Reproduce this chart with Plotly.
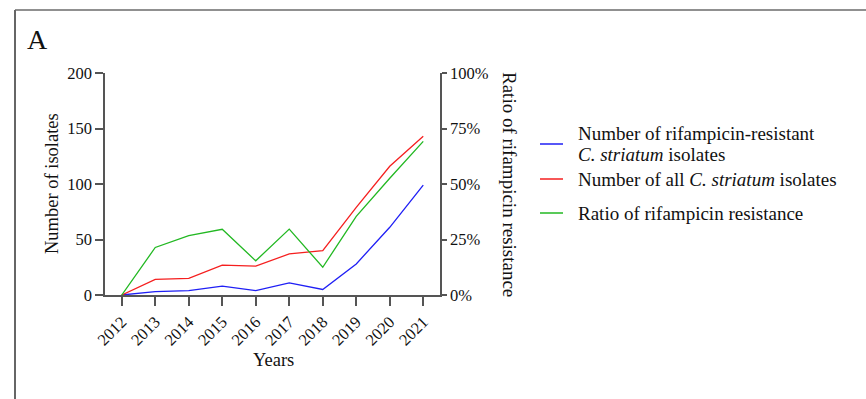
import plotly.graph_objects as go

# Surveillance data, 2012-2021
years = ["2012", "2013", "2014", "2015", "2016", "2017", "2018", "2019", "2020", "2021"]
resistant_isolates = [0, 3, 4, 8, 4, 11, 5, 28, 61, 99]
all_isolates = [0, 14, 15, 27, 26, 37, 40, 79, 116, 143]
resistance_ratio_pct = [0, 21.4, 26.7, 29.6, 15.4, 29.7, 12.5, 35.4, 52.6, 69.2]

count_ticks = [0, 50, 100, 150, 200]
ratio_ticks = [0, 25, 50, 75, 100]

# legend labels, one list of text lines per series
series_labels = [
    ["Number of rifampicin-resistant", "<i>C. striatum</i> isolates"],
    ["Number of all <i>C. striatum</i> isolates"],
    ["Ratio of rifampicin resistance"],
]
series_colors = ["#1f1ff5", "#f51f1f", "#22b822"]

W, H = 866, 399
ML, MR, MT, MB = 105, 426, 73, 104
PW, PH = W - ML - MR, H - MT - MB

FONT = "Liberation Serif, Times New Roman, serif"
AXIS_COLOR = "#555555"
TEXT_COLOR = "#111111"


def px_x(x):
    return (x - ML) / PW


def px_y(y):
    return 1 - (y - MT) / PH


fig = go.Figure()
fig.add_trace(go.Scatter(
    x=years, y=resistant_isolates, mode="lines",
    name=" ".join(series_labels[0]),
    line=dict(color=series_colors[0], width=1.3),
))
fig.add_trace(go.Scatter(
    x=years, y=all_isolates, mode="lines",
    name=" ".join(series_labels[1]),
    line=dict(color=series_colors[1], width=1.3),
))
fig.add_trace(go.Scatter(
    x=years, y=resistance_ratio_pct, mode="lines", yaxis="y2",
    name=" ".join(series_labels[2]),
    line=dict(color=series_colors[2], width=1.3),
))

axis_common = dict(
    showline=True, linecolor=AXIS_COLOR, linewidth=1.5,
    ticks="outside", tickcolor=AXIS_COLOR, tickwidth=1.5,
    showgrid=False, zeroline=False,
    tickfont=dict(family=FONT, size=16.5, color=TEXT_COLOR),
)

annotations = [
    dict(text="A", x=px_x(25), y=px_y(40), xref="paper", yref="paper",
         xanchor="left", yanchor="middle", showarrow=False,
         font=dict(family=FONT, size=28, color=TEXT_COLOR)),
    dict(text="Number of isolates", x=px_x(52), y=px_y(184),
         xref="paper", yref="paper", textangle=-90, showarrow=False,
         xanchor="center", yanchor="middle",
         font=dict(family=FONT, size=18.5, color=TEXT_COLOR)),
    dict(text="Ratio of rifampicin resistance", x=px_x(510), y=px_y(184),
         xref="paper", yref="paper", textangle=90, showarrow=False,
         xanchor="center", yanchor="middle",
         font=dict(family=FONT, size=19, color=TEXT_COLOR)),
    dict(text="Years", x=px_x(273), y=px_y(360),
         xref="paper", yref="paper", showarrow=False,
         xanchor="center", yanchor="middle",
         font=dict(family=FONT, size=18.5, color=TEXT_COLOR)),
]

shapes = [
    # panel frame: top rule and left rule
    dict(type="line", xref="paper", yref="paper",
         x0=px_x(15), x1=px_x(W), y0=px_y(10), y1=px_y(10),
         line=dict(color="#222222", width=1.2)),
    dict(type="line", xref="paper", yref="paper",
         x0=px_x(15), x1=px_x(15), y0=px_y(10), y1=px_y(H),
         line=dict(color="#666666", width=2)),
]

# legend: short colour rule followed by the series label
legend_rows = [144, 179, 213]
LEGEND_LINE_GAP = 21
for lines, color, row in zip(series_labels, series_colors, legend_rows):
    shapes.append(dict(type="line", xref="paper", yref="paper",
                       x0=px_x(540), x1=px_x(563), y0=px_y(row), y1=px_y(row),
                       line=dict(color=color, width=1.5)))
    first = row - LEGEND_LINE_GAP * (len(lines) - 1) / 2
    for i, text in enumerate(lines):
        annotations.append(dict(text=text, x=px_x(576),
                                y=px_y(first + i * LEGEND_LINE_GAP),
                                xref="paper", yref="paper", showarrow=False,
                                xanchor="left", yanchor="middle", align="left",
                                font=dict(family=FONT, size=19, color=TEXT_COLOR)))

fig.update_layout(
    width=W, height=H,
    margin=dict(l=ML, r=MR, t=MT, b=MB),
    paper_bgcolor="white", plot_bgcolor="white",
    font=dict(family=FONT, size=17, color=TEXT_COLOR),
    showlegend=False,
    xaxis=dict(
        type="category", range=[-0.5, 9.5], tickangle=-45, ticklen=9,
        **axis_common,
    ),
    yaxis=dict(
        range=[0, 200], tickvals=count_ticks, ticklen=8,
        **axis_common,
    ),
    yaxis2=dict(
        overlaying="y", side="right", range=[0, 100],
        tickvals=ratio_ticks, ticktext=[f"{v}%" for v in ratio_ticks], ticklen=5,
        **axis_common,
    ),
    annotations=annotations,
    shapes=shapes,
)

fig.write_html("out.html")
